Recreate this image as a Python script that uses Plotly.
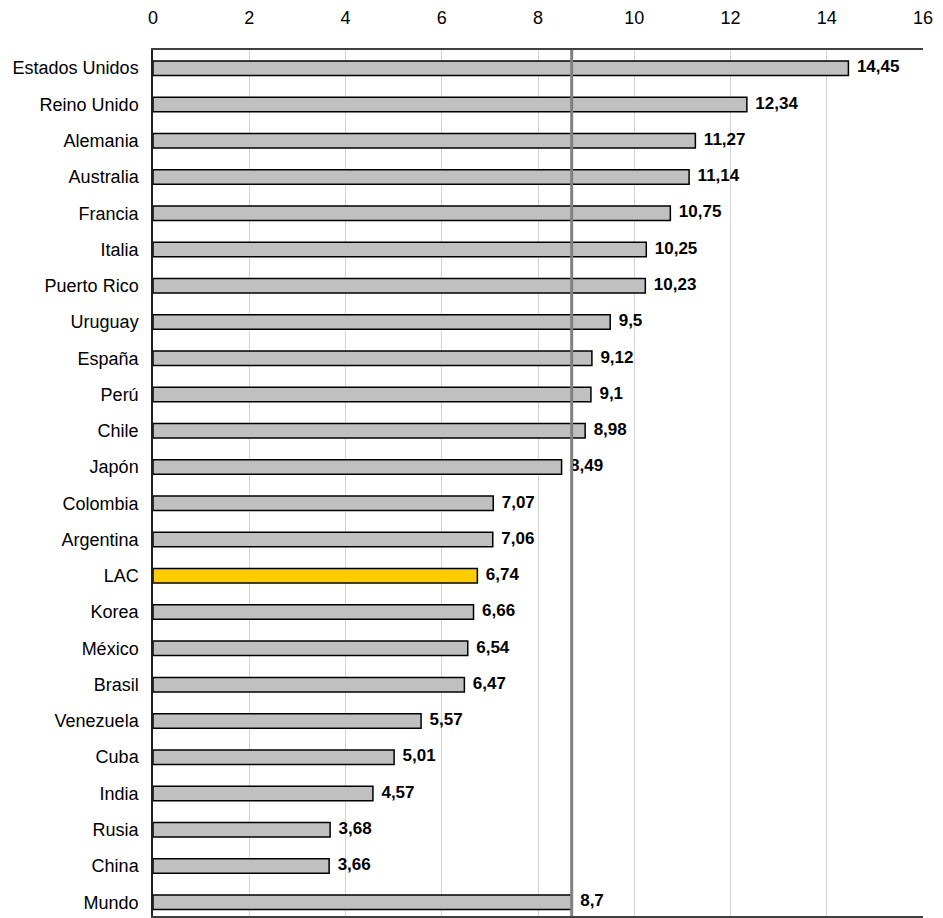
import plotly.graph_objects as go

# Países y valores (en orden de aparición, de arriba abajo)
paises = ["Estados Unidos", "Reino Unido", "Alemania", "Australia", "Francia",
          "Italia", "Puerto Rico", "Uruguay", "España", "Perú", "Chile", "Japón",
          "Colombia", "Argentina", "LAC", "Korea", "México", "Brasil",
          "Venezuela", "Cuba", "India", "Rusia", "China", "Mundo"]
valores = [14.45, 12.34, 11.27, 11.14, 10.75, 10.25, 10.23, 9.5, 9.12, 9.1, 8.98,
           8.49, 7.07, 7.06, 6.74, 6.66, 6.54, 6.47, 5.57, 5.01, 4.57, 3.68,
           3.66, 8.7]
etiquetas = ["14,45", "12,34", "11,27", "11,14", "10,75", "10,25", "10,23", "9,5",
             "9,12", "9,1", "8,98", "8,49", "7,07", "7,06", "6,74", "6,66", "6,54",
             "6,47", "5,57", "5,01", "4,57", "3,68", "3,66", "8,7"]
valor_mundo = 8.7
x_ticks = [0, 2, 4, 6, 8, 10, 12, 14, 16]

FUENTE = "Liberation Sans, Arial, sans-serif"
colores = ["#FFCC00" if p == "LAC" else "#C0C0C0" for p in paises]
idx = list(range(len(paises)))

fig = go.Figure()
fig.add_trace(go.Bar(
    y=idx, x=valores, orientation="h",
    marker=dict(color=colores, line=dict(color="#000000", width=1.5)),
    width=0.4, hoverinfo="skip",
))
# Etiquetas de valor a la derecha de cada barra
fig.add_trace(go.Scatter(
    y=idx, x=valores, mode="text",
    text=["\u2002" + e for e in etiquetas],
    textposition="middle right",
    textfont=dict(family=FUENTE, size=17, color="#000000", weight="bold"),
    cliponaxis=False, hoverinfo="skip",
))
# Línea de referencia del promedio mundial (encima de las etiquetas)
fig.add_trace(go.Scatter(
    x=[valor_mundo, valor_mundo], y=[-1, 25], mode="lines",
    line=dict(color="#808080", width=3), hoverinfo="skip",
))

fig.update_layout(
    width=943, height=918,
    margin=dict(l=153, r=20, t=50, b=0),
    paper_bgcolor="white", plot_bgcolor="white",
    showlegend=False,
    font=dict(family=FUENTE, size=18, color="#000000"),
)
fig.update_xaxes(
    range=[0, 16], side="top", tickvals=x_ticks,
    ticktext=[str(t) for t in x_ticks],
    showgrid=True, gridcolor="#D4D4D4", gridwidth=1,
    showline=True, linecolor="#404040", linewidth=1.5, mirror=True,
    zeroline=False, ticks="outside", ticklen=17, tickcolor="rgba(0,0,0,0)",
    tickfont=dict(size=18),
)
fig.update_yaxes(
    range=[23.38, -0.5], tickvals=idx, ticktext=paises,
    showgrid=False, zeroline=False,
    showline=True, linecolor="#202020", linewidth=1.5,
    ticks="outside", ticklen=9, tickcolor="rgba(0,0,0,0)",
    tickfont=dict(size=18),
)

fig.write_html("out.html")
